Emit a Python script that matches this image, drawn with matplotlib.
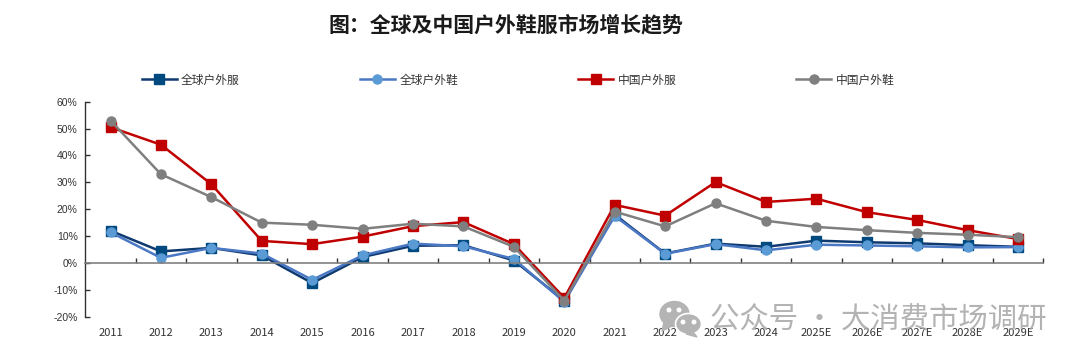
import matplotlib
matplotlib.use('Agg')
import matplotlib.pyplot as plt
from matplotlib.patches import Ellipse, Polygon
from matplotlib.ticker import FuncFormatter

plt.rcParams['font.family'] = ['Noto Sans CJK SC', 'DejaVu Sans']

years = ['2011', '2012', '2013', '2014', '2015', '2016', '2017', '2018', '2019', '2020',
         '2021', '2022', '2023', '2024', '2025E', '2026E', '2027E', '2028E', '2029E']

# 增速，单位 %
global_apparel = [12, 4.3, 5.6, 2.8, -7.5, 2.2, 6.4, 6.6, 0.9, -14, 18, 3.5, 7.2, 6, 8.3, 7.7, 7.3, 6.6, 6.0]
global_shoes = [11.4, 1.9, 5.6, 3.5, -6.3, 2.8, 7.2, 6.2, 1.5, -14.5, 17.5, 3.4, 7.0, 4.7, 6.8, 6.5, 6.2, 5.8, 5.9]
china_apparel = [50.5, 44, 29.3, 8.2, 7, 9.8, 13.7, 15.2, 7.0, -13, 21.6, 17.6, 30.1, 22.7, 23.9, 18.9, 16, 12.2, 8.9]
china_shoes = [53, 33, 24.5, 15, 14.2, 12.7, 14.6, 13.6, 6, -14, 19.1, 13.6, 22.2, 15.7, 13.4, 12.2, 11.2, 10.5, 9.6]

W, H = 1080, 363
fig = plt.figure(figsize=(W / 100, H / 100), dpi=100)

# 坐标区按像素位置摆放
ax = fig.add_axes([85.3 / W, 1 - 316.7 / H, (1043.3 - 85.3) / W, (316.7 - 101.7) / H])
x = list(range(len(years)))

ax.plot(x, global_apparel, color='#0f3a70', lw=1.8, marker='s', ms=7, mfc='#004a80', mec='#004a80', label='全球户外服')
ax.plot(x, global_shoes, color='#4a78c4', lw=1.8, marker='o', ms=6.5, mfc='#5b9bd5', mec='#5b9bd5', label='全球户外鞋')
ax.plot(x, china_apparel, color='#c00000', lw=1.8, marker='s', ms=7, mfc='#c00000', mec='#c00000', label='中国户外服')
ax.plot(x, china_shoes, color='#7f7f7f', lw=1.8, marker='o', ms=6.5, mfc='#7f7f7f', mec='#7f7f7f', label='中国户外鞋')

ax.set_xlim(-0.5, len(years) - 0.5)
ax.set_ylim(-20, 60)
ax.set_yticks(range(-20, 61, 10))
ax.yaxis.set_major_formatter(FuncFormatter(lambda v, p: f'{v:.0f}%'))

for s in ['top', 'right']:
    ax.spines[s].set_visible(False)
ax.spines['left'].set_color('#333333')
ax.spines['left'].set_linewidth(1)
ax.spines['bottom'].set_position(('data', 0))
ax.spines['bottom'].set_color('#808080')
ax.spines['bottom'].set_linewidth(1.2)

ax.tick_params(axis='y', direction='in', length=3.5, width=1, color='#333333', pad=5.5,
               labelsize=7.5, labelcolor='#333333')
for lab in ax.get_yticklabels():
    lab.set_family(['Liberation Sans', 'DejaVu Sans'])

# 标签放在底部，刻度在类别之间朝上
ax.set_xticks(x)
ax.set_xticklabels(years)
ax.tick_params(axis='x', which='major', length=0, pad=46.5, labelsize=8, labelcolor='#333333')
ax.set_xticks([i - 0.5 for i in range(1, len(years) + 1)], minor=True)
ax.tick_params(axis='x', which='minor', direction='in', length=3.5, width=1, color='#333333')

fig.text(506 / W, 1 - 25 / H, '图：全球及中国户外鞋服市场增长趋势', ha='center', va='center',
         fontsize=15.05, fontweight='bold', color='#1a1a1a')

fig.legend(loc='center left', bbox_to_anchor=(131 / W, 1 - 80 / H), ncols=4, frameon=False,
           fontsize=8.5, handlelength=3.0, handletextpad=0.35, columnspacing=10.15, labelcolor='#333333')

# 水印
fig.text(710 / W, 1 - 320 / H, '公众号 · 大消费市场调研', ha='left', va='center',
         fontsize=21.2, color='#a6a6a6', alpha=0.85, zorder=10)


def px(cx, cy):
    return cx / W, 1 - cy / H


icon = '#b4b4b4'
fig.add_artist(Ellipse(px(674.5, 314), 29 / W, 25 / H, color=icon, transform=fig.transFigure, zorder=10))
fig.add_artist(Polygon([px(664, 322), px(662, 331), px(672, 326)], color=icon, transform=fig.transFigure, zorder=10))
fig.add_artist(Ellipse(px(688.5, 324), 26 / W, 21 / H, fc=icon, ec='white', lw=1.2, transform=fig.transFigure, zorder=11))
fig.add_artist(Polygon([px(693, 332), px(697, 337), px(686, 334)], color=icon, transform=fig.transFigure, zorder=11))
for ex, ey in [(669, 310), (679, 310), (683, 322), (694, 322)]:
    fig.add_artist(Ellipse(px(ex, ey), 3.5 / W, 3.5 / H, color='white', transform=fig.transFigure, zorder=12))

fig.savefig('out.png', dpi=100)
